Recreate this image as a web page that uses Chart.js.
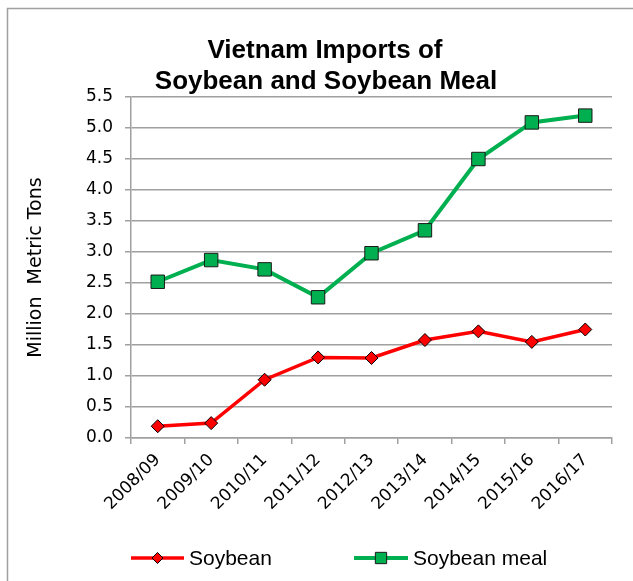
<!DOCTYPE html>
<html>
<head>
<meta charset="utf-8">
<script src="https://cdn.jsdelivr.net/npm/chart.js@4.4.1/dist/chart.umd.min.js"></script>
<style>
  html, body { margin: 0; padding: 0; background: #fff; }
  canvas { display: block; }
</style>
</head>
<body>
<canvas id="chart" width="633" height="581"></canvas>
<script>
// marketing years on the x axis
const years = ["2008/09", "2009/10", "2010/11", "2011/12", "2012/13", "2013/14", "2014/15", "2015/16", "2016/17"];
// million metric tons
const soybean = [0.19, 0.24, 0.94, 1.30, 1.29, 1.58, 1.72, 1.55, 1.75];
const soybeanMeal = [2.52, 2.87, 2.72, 2.27, 2.98, 3.35, 4.50, 5.09, 5.20];
const titleLines = ["Vietnam Imports of", "Soybean and Soybean Meal"];
const yTitle = "Million  Metric Tons";

const GRID = "#a0a0a0";

// frame, title and the line+marker legend are drawn by hand
const extras = {
  id: "extras",
  beforeDraw(chart) {
    const ctx = chart.ctx;
    ctx.save();
    ctx.fillStyle = "#fff";
    ctx.fillRect(0, 0, chart.width, chart.height);
    ctx.strokeStyle = GRID;
    ctx.lineWidth = 1.5;
    ctx.strokeRect(7.5, 8.5, chart.width + 10, chart.height + 10);
    ctx.restore();
  },
  afterDraw(chart) {
    const ctx = chart.ctx;
    ctx.save();
    ctx.fillStyle = "#000";
    ctx.textAlign = "center";
    ctx.textBaseline = "alphabetic";
    ctx.font = "bold 26px 'Liberation Sans', Arial, sans-serif";
    ctx.fillText(titleLines[0], 325, 58);
    ctx.fillText(titleLines[1], 326, 89);

    const y = 558;
    const items = [
      { ds: chart.data.datasets[0], x0: 131, x1: 184, r: 5.5 },
      { ds: chart.data.datasets[1], x0: 354, x1: 408, r: 8 }
    ];
    ctx.font = "21px 'Liberation Sans', Arial, sans-serif";
    ctx.textAlign = "left";
    ctx.textBaseline = "middle";
    items.forEach(it => {
      ctx.strokeStyle = it.ds.borderColor;
      ctx.lineWidth = it.ds.borderWidth;
      ctx.beginPath();
      ctx.moveTo(it.x0, y);
      ctx.lineTo(it.x1, y);
      ctx.stroke();
      ctx.fillStyle = it.ds.pointBackgroundColor;
      ctx.strokeStyle = it.ds.pointBorderColor;
      ctx.lineWidth = 1;
      Chart.helpers.drawPoint(ctx, { pointStyle: it.ds.pointStyle, radius: it.r, rotation: 0, borderWidth: 1 }, (it.x0 + it.x1) / 2, y);
      ctx.fillStyle = "#000";
      ctx.fillText(it.ds.label, it.x1 + 5, y + 1);
    });
    ctx.restore();
  }
};

new Chart(document.getElementById("chart"), {
  type: "line",
  data: {
    labels: years,
    datasets: [
      {
        label: "Soybean",
        data: soybean,
        borderColor: "#ff0000",
        borderWidth: 3.5,
        pointStyle: "rectRot",
        pointRadius: 6.5,
        pointBackgroundColor: "#ff0000",
        pointBorderColor: "#000",
        pointBorderWidth: 1,
        tension: 0
      },
      {
        label: "Soybean meal",
        data: soybeanMeal,
        borderColor: "#00b050",
        borderWidth: 4,
        pointStyle: "rect",
        pointRadius: 9.5,
        pointBackgroundColor: "#00b050",
        pointBorderColor: "#1a1a1a",
        pointBorderWidth: 1,
        tension: 0
      }
    ]
  },
  options: {
    responsive: false,
    animation: false,
    devicePixelRatio: 1,
    layout: { padding: { top: 97, left: 25, right: 21, bottom: 0 } },
    plugins: {
      legend: { display: false },
      title: { display: false },
      tooltip: { enabled: false }
    },
    scales: {
      x: {
        offset: true,
        afterFit: s => { s.height = 143; },
        grid: { offset: true, drawOnChartArea: false, tickLength: 6, color: GRID, lineWidth: 1.5 },
        border: { color: GRID, width: 1.5 },
        ticks: {
          minRotation: 45,
          maxRotation: 45,
          padding: 6,
          color: "#000",
          font: { family: "'DejaVu Sans'", size: 17 }
        }
      },
      y: {
        min: 0,
        max: 5.5,
        afterFit: s => { s.width = 106; },
        grid: { color: GRID, lineWidth: 1.5, tickLength: 6 },
        border: { color: GRID, width: 1.5 },
        ticks: {
          stepSize: 0.5,
          padding: 12,
          color: "#000",
          font: { family: "'DejaVu Sans'", size: 17 },
          callback: v => v.toFixed(1)
        },
        title: {
          display: true,
          text: yTitle,
          color: "#000",
          padding: 0,
          font: { family: "'DejaVu Sans'", size: 19 }
        }
      }
    }
  },
  plugins: [extras]
});
</script>
</body>
</html>
